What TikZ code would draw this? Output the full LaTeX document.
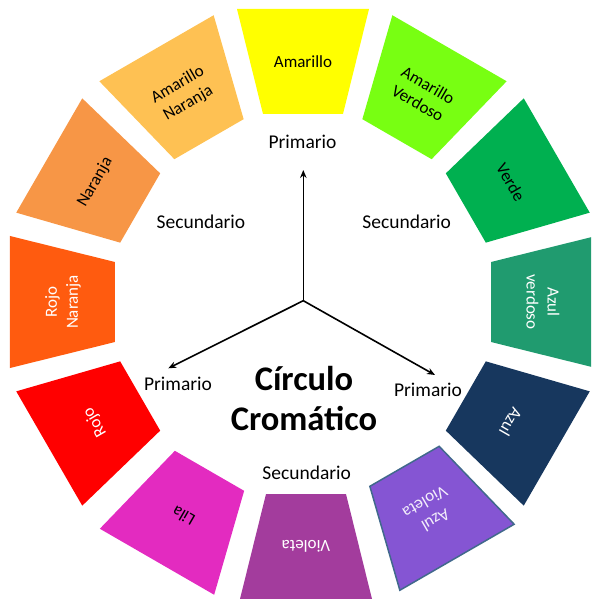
\documentclass[tikz,border=0pt]{standalone}
\usepackage{fontspec}
\setmainfont{Carlito}
\usetikzlibrary{arrows.meta}
\definecolor{cAm}{RGB}{255,255,0}
\definecolor{cAV}{RGB}{120,255,18}
\definecolor{cVe}{RGB}{0,176,80}
\definecolor{cAzV}{RGB}{32,155,111}
\definecolor{cAz}{RGB}{23,55,94}
\definecolor{cAVi}{RGB}{133,85,211}
\definecolor{cVi}{RGB}{163,60,157}
\definecolor{cLi}{RGB}{227,43,192}
\definecolor{cRo}{RGB}{255,0,0}
\definecolor{cRN}{RGB}{255,91,15}
\definecolor{cNa}{RGB}{247,150,70}
\definecolor{cAN}{RGB}{254,193,83}
\definecolor{cBorder}{RGB}{65,105,140}
\begin{document}
\begin{tikzpicture}[x=1pt,y=1pt,
  segtext/.style={align=center,font=\fontsize{17}{21}\selectfont,inner sep=0pt},
  lbl/.style={font=\fontsize{19.5}{23}\selectfont,inner sep=0pt},
  titletext/.style={align=center,font=\fontsize{34.5}{40}\selectfont\bfseries,inner sep=0pt},
  arr/.style={-{Stealth[length=8pt,width=6.5pt]},line width=1.6pt}]
\clip (-303,-297) rectangle (288,302);
\foreach \k/\col/\tc/\sx/\sy/\bd/\txt in {
 0/cAm/black/0/0/none/Amarillo,
 1/cAV/black/0/0/none/{Amarillo\\Verdoso},
 2/cVe/black/0/0/none/Verde,
 3/cAzV/white/0/0/none/{Azul\\verdoso},
 4/cAz/white/0/0/none/Azul,
 5/cAVi/white!90!cAVi/7.5/-1.5/cBorder/{Azul\\Violeta},
 6/cVi/white/3/-4/none/Violeta,
 7/cLi/black/0.5/-6/none/Lila,
 8/cRo/white/0/0/none/Rojo,
 9/cRN/white/0/0/none/{Rojo\\Naranja},
 10/cNa/black/0/0/none/Naranja,
 11/cAN/black/0/0/none/{Amarillo\\Naranja}}
{
 \begin{scope}[shift={(\sx,\sy)},rotate=-30*\k]
 \filldraw[fill=\col,draw=\bd,line width=1.5pt] (-66,293) -- (66,293) -- (40,188) -- (-40,188) -- cycle;
 \node[segtext,text=\tc,rotate=-30*\k] (seg\k) at (0,240) {\txt};
 \end{scope}
}
\node[lbl] (pTop) at (-0.5,160) {Primario};
\node[lbl] (pLeft) at (-125,-82) {Primario};
\node[lbl] (pRight) at (125,-88) {Primario};
\node[lbl] (sLeft) at (-102,80) {Secundario};
\node[lbl] (sRight) at (103.7,80) {Secundario};
\node[lbl] (sBottom) at (3.7,-170.7) {Secundario};
\node[titletext] (title) at (1,-97) {Círculo\\Cromático};
\coordinate (o) at (0.3,1.3);
\coordinate (tTop) at (0.3,132);
\coordinate (tLeft) at (-134.7,-66.3);
\coordinate (tRight) at (132,-73);
\draw[arr] (o) -- (tTop);
\draw[arr] (o) -- (tLeft);
\draw[arr] (o) -- (tRight);
\end{tikzpicture}
\end{document}
